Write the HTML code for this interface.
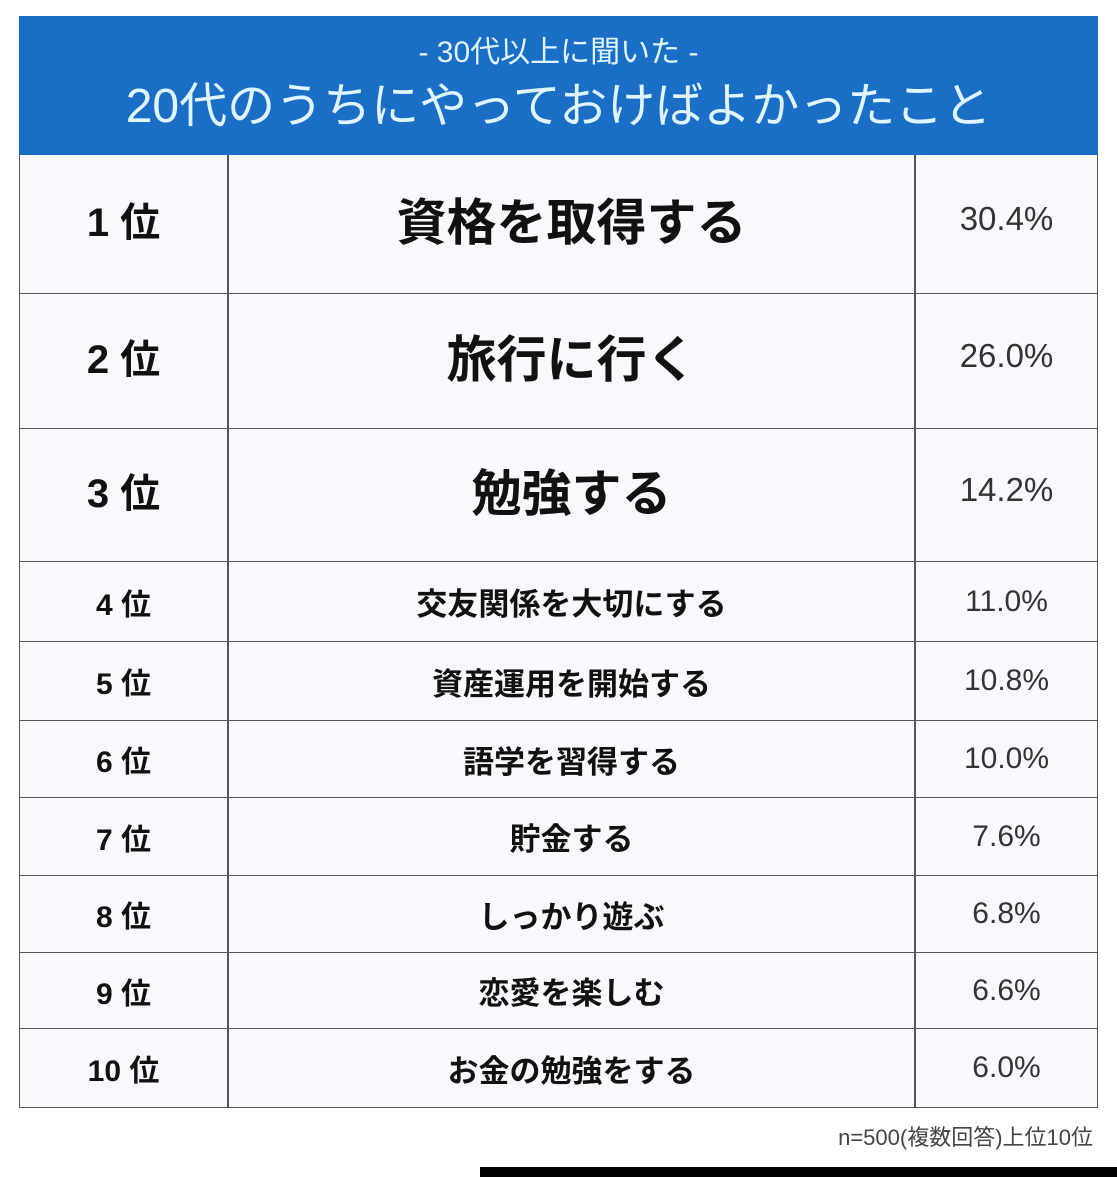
<!DOCTYPE html>
<html><head><meta charset="utf-8"><style>
*{box-sizing:border-box}
body{margin:0;width:1117px;height:1177px;background:#fff;position:relative;overflow:hidden;font-family:"Liberation Sans","Noto Sans CJK JP",sans-serif;}
.hdr{position:absolute;left:19px;top:16px;width:1079px;height:139px;background:#1b6ec6;color:#dff5ff;text-align:center;}
.sub{position:absolute;left:0;right:0;top:20px;font-size:30px;line-height:34px;}
.ttl{position:absolute;left:0;right:0;top:61px;font-size:48px;line-height:60px;}
.row{position:absolute;left:19px;width:1079px;border:1px solid #555;border-top:none;background:#f7f9fd;display:flex;align-items:center;}
.row div{height:100%;display:flex;align-items:center;justify-content:center;color:#111;}
.c1{width:209px;border-right:2px solid #555;font-weight:bold;}
.c2{width:687px;border-right:2px solid #555;font-weight:bold;}
.c3{flex:1;color:#333 !important;}
.big div{padding-bottom:10px}
.big .c1{font-size:40px}.big .c2{font-size:50px}.big .c3{font-size:33px}
.sm .c1{font-size:30px}.sm .c2{font-size:31px}.sm .c3{font-size:30px}
.note{position:absolute;right:24px;top:1120px;font-size:22px;color:#444;}
.bar{position:absolute;left:480px;top:1167px;width:637px;height:10px;background:#000;}
</style></head><body>
<div class="hdr"><div class="sub">- 30代以上に聞いた -</div><div class="ttl">20代のうちにやっておけばよかったこと</div></div>
<div class="row big" style="top:155px;height:139px"><div class="c1">1 位</div><div class="c2">資格を取得する</div><div class="c3">30.4%</div></div>
<div class="row big" style="top:294px;height:135px"><div class="c1">2 位</div><div class="c2">旅行に行く</div><div class="c3">26.0%</div></div>
<div class="row big" style="top:429px;height:133px"><div class="c1">3 位</div><div class="c2">勉強する</div><div class="c3">14.2%</div></div>
<div class="row sm" style="top:562px;height:80px"><div class="c1">4 位</div><div class="c2">交友関係を大切にする</div><div class="c3">11.0%</div></div>
<div class="row sm" style="top:642px;height:79px"><div class="c1">5 位</div><div class="c2">資産運用を開始する</div><div class="c3">10.8%</div></div>
<div class="row sm" style="top:721px;height:77px"><div class="c1">6 位</div><div class="c2">語学を習得する</div><div class="c3">10.0%</div></div>
<div class="row sm" style="top:798px;height:78px"><div class="c1">7 位</div><div class="c2">貯金する</div><div class="c3">7.6%</div></div>
<div class="row sm" style="top:876px;height:77px"><div class="c1">8 位</div><div class="c2">しっかり遊ぶ</div><div class="c3">6.8%</div></div>
<div class="row sm" style="top:953px;height:76px"><div class="c1">9 位</div><div class="c2">恋愛を楽しむ</div><div class="c3">6.6%</div></div>
<div class="row sm" style="top:1029px;height:79px"><div class="c1">10 位</div><div class="c2">お金の勉強をする</div><div class="c3">6.0%</div></div>
<div class="note">n=500(複数回答)上位10位</div>
<div class="bar"></div>
</body></html>
